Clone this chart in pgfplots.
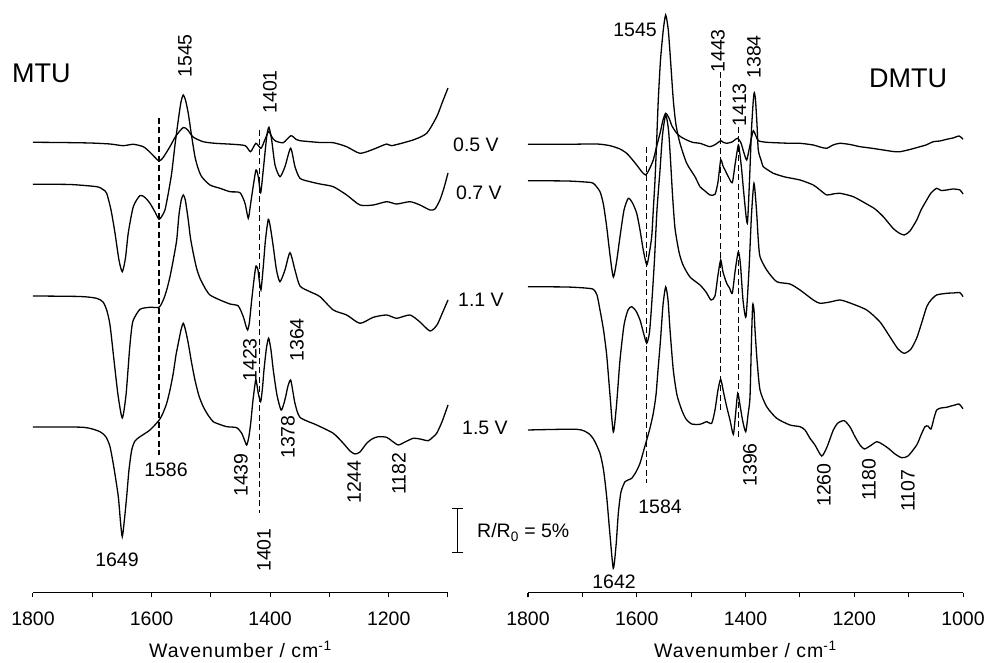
\documentclass[border=0pt]{standalone}
\usepackage{fontspec}
\setmainfont{Liberation Sans}
\usepackage{pgfplots}
\pgfplotsset{compat=1.18}
\newcommand{\lbl}{\fontsize{19.5pt}{23pt}\selectfont}
\begin{document}
\begin{tikzpicture}[font=\lbl]
\useasboundingbox (0,0) rectangle (988pt,663pt);
\pgfplotsset{
  spec/.style={
    scale only axis, height=593pt, ymin=-593, ymax=0,
    x dir=reverse,
    axis y line=none, axis x line*=bottom,
    x axis line style={-, line width=1pt},
    tick align=outside, major tick length=4.5pt, minor tick length=4.5pt,
    tick style={black, line width=1pt},
    ytick=\empty,
    /pgf/number format/assume math mode=true,
    /pgf/number format/1000 sep={},
    tick label style={font=\lbl},
    xticklabel style={yshift=-11pt},
    xlabel={\addfontfeatures{LetterSpace=5}Wavenumber / cm\textsuperscript{-1}},
    xlabel style={font=\lbl, at={(axis description cs:0.5,0)}, anchor=base, yshift=-65pt},
    clip=false,
  },
  trace/.style={black, line width=1.3pt, smooth, tension=0.4, mark=none},
  dline/.style={black, line width=1.2pt, dash pattern=on 6pt off 3.5pt, mark=none},
}
% ---------------- left panel: MTU ----------------
\begin{axis}[spec, at={(33pt,70pt)}, anchor=south west, width=415pt,
  xmin=1100, xmax=1800, xtick={1200,1400,1600,1800}, minor xtick={1100,1300,1500,1700}]
\addplot[dline] coordinates {(1587.5,-118)(1587.5,-455)};
\addplot[dline] coordinates {(1417.6,-130)(1417.6,-513)};
% 0.5 V
\addplot[trace] coordinates {(1800,-142.3)(1755,-142.5)(1704,-143)(1670,-144)(1648,-145.7)(1631,-144.3)(1614,-146.7)(1603,-152)(1594,-157.5)(1587.5,-161)(1581,-158)(1569,-146.7)(1559,-136)(1546.5,-127.5)(1539,-130)(1530,-137)(1513,-141.7)(1493,-143.3)(1463,-144.3)(1442,-145.7)(1433,-151.7)(1424,-143.3)(1415.5,-148.3)(1409,-140)(1402.5,-131.5)(1397,-137)(1392,-140.7)(1378,-142.7)(1365,-135.7)(1356,-139.5)(1350,-140.7)(1316,-142.5)(1293.5,-142.7)(1271,-146.7)(1248.5,-153.3)(1226,-149.3)(1203.5,-144)(1195,-145.7)(1159,-140)(1136,-133.3)(1119,-116.7)(1110,-103)(1100,-88)};
% 0.7 V
\addplot[trace] coordinates {(1800,-184.3)(1737.6,-184.5)(1692.6,-186.7)(1681.9,-189.5)(1675.7,-193.3)(1668.4,-210)(1661.7,-233)(1655,-260)(1649.4,-271.7)(1644,-258)(1639.3,-233)(1630.8,-206.7)(1619.5,-195.5)(1611.1,-197.5)(1602.7,-203.3)(1594.2,-212)(1587.5,-219.3)(1582.4,-216)(1577.4,-210)(1572.3,-195)(1566.1,-173.3)(1560.5,-145)(1554.9,-120)(1550.4,-102)(1546.5,-95)(1542.8,-100)(1538.1,-113.3)(1532.7,-135)(1526.8,-156.7)(1521.7,-168)(1515.5,-176.7)(1501.5,-185)(1484.6,-188.3)(1467.7,-191.7)(1450.9,-192.7)(1442.4,-203.3)(1436.9,-218.3)(1433.2,-205)(1429.5,-190)(1423.9,-170)(1420,-176.7)(1416,-192.7)(1411.6,-170)(1405.8,-136.7)(1402,-127.3)(1397.4,-140)(1391.8,-165)(1383.4,-176.7)(1375,-166.7)(1365.4,-148.3)(1358.1,-166.7)(1349.7,-178.3)(1332.8,-181.7)(1315.9,-184)(1293.5,-186.7)(1270.9,-195)(1248.5,-205)(1226,-205)(1203.5,-201.7)(1186.6,-204)(1164.2,-201.7)(1147.3,-205)(1130.4,-210)(1122,-209)(1113.6,-200)(1106.8,-188)(1100,-173)};
% 1.1 V
\addplot[trace] coordinates {(1800,-296)(1720.7,-296.5)(1692.6,-298.3)(1681.9,-302)(1675.7,-310)(1670.1,-325)(1663.4,-360)(1656.6,-395)(1649.4,-418)(1643.1,-395)(1637.2,-350)(1633.9,-330)(1630.8,-320)(1619.5,-309.3)(1602.7,-307.3)(1587.5,-307.3)(1580.2,-300)(1574.5,-290)(1568.9,-276.7)(1563.4,-260)(1557.6,-240)(1553.8,-215)(1549.9,-200)(1546.5,-195)(1543.1,-200)(1538.1,-220)(1534.4,-238)(1529.6,-253.3)(1524.2,-268)(1518.3,-278.3)(1509.9,-288)(1501.5,-295)(1484.6,-300)(1467.7,-304)(1453.7,-306)(1445.3,-316.7)(1440.8,-326)(1437.9,-330)(1434.9,-322)(1431.1,-300)(1427.3,-280)(1423.9,-266)(1420.5,-270)(1418.8,-278.3)(1415.5,-290)(1411.6,-266.7)(1407.9,-240)(1403.1,-219.3)(1399.4,-228)(1394.7,-246.7)(1389.3,-270)(1383.4,-281.7)(1375,-270)(1366.5,-252.7)(1358.1,-270)(1349.7,-286)(1332.8,-291.7)(1315.9,-296.7)(1293.5,-310)(1270.9,-315)(1248.5,-323.3)(1226,-317.3)(1203.5,-315)(1186.6,-318.3)(1164.2,-315)(1147.3,-322)(1130.4,-331)(1118.6,-325)(1110.2,-314)(1100,-300)};
% 1.5 V
\addplot[trace] coordinates {(1800,-427)(1715.2,-427.3)(1687,-431.7)(1676.9,-437)(1670.1,-446.7)(1663.4,-468)(1656.1,-496.7)(1652.4,-522)(1649.4,-536.7)(1646.2,-522)(1642,-496.7)(1638.1,-470)(1633.5,-450)(1628,-441)(1619.5,-436.7)(1602.7,-430)(1587,-420)(1580.7,-413)(1574.5,-403.3)(1568.9,-390)(1563.4,-373.3)(1558.8,-355)(1554.9,-343.3)(1550.4,-330)(1546.5,-323.3)(1542.8,-330)(1538.1,-343.3)(1532.7,-362)(1526.8,-380)(1520,-396)(1512.8,-406.7)(1504.8,-415)(1495.9,-421.7)(1484.6,-424.5)(1473.3,-426.7)(1456.4,-427.7)(1448,-433.3)(1443.3,-440)(1439.6,-445)(1436.2,-438)(1432.8,-423.3)(1428.9,-400)(1424.4,-380)(1422.2,-385)(1420,-393.3)(1416,-401.7)(1412.9,-388)(1410.4,-370)(1406.2,-348)(1402.5,-338.3)(1398.6,-350)(1394.7,-370)(1388.5,-395)(1381.7,-410)(1377.5,-405)(1373.8,-396.7)(1369.9,-386)(1365.4,-380)(1361.5,-392)(1358.1,-403.3)(1349.7,-417.3)(1321.5,-425)(1293.5,-433.3)(1276.6,-443.3)(1265.3,-451)(1256.9,-454)(1248.5,-452)(1237.2,-443.3)(1228.2,-439)(1217.6,-436.7)(1203.5,-437.3)(1194.5,-441)(1183.9,-445)(1172.6,-442)(1158.6,-438.3)(1147.3,-439)(1133.3,-440.7)(1125.4,-437)(1119.1,-433.3)(1110.2,-422)(1100,-405)};
\end{axis}
% ---------------- right panel: DMTU ----------------
\begin{axis}[spec, at={(528pt,70pt)}, anchor=south west, width=435pt,
  xmin=1000, xmax=1800, xtick={1000,1200,1400,1600,1800}, minor xtick={1100,1300,1500,1700}]
\addplot[dline] coordinates {(1581.7,-147)(1581.7,-483)};
\addplot[dline] coordinates {(1445.6,-72)(1445.6,-412)};
\addplot[dline] coordinates {(1413.2,-127)(1413.2,-440)};
% 0.5 V
\addplot[trace] coordinates {(1800,-144.3)(1728.8,-144.3)(1673.7,-144)(1649.2,-145.7)(1630.8,-149)(1618.5,-153.3)(1610.6,-158)(1600.1,-165)(1590.3,-172)(1583.5,-175)(1577.5,-170)(1569.6,-160)(1563.7,-147)(1557.2,-133.3)(1551.7,-120)(1546.8,-113.3)(1540.7,-118)(1535.2,-126)(1526.5,-133.3)(1518.6,-137)(1508.1,-140)(1496.5,-142.5)(1483.7,-143.3)(1465.3,-146.7)(1454.2,-144)(1445.6,-140.7)(1440.5,-142.5)(1434.6,-143.3)(1424.8,-142)(1414.7,-138.3)(1408.3,-143)(1402.8,-153)(1397.8,-160)(1393.6,-150)(1389,-138)(1385.6,-130.7)(1380.7,-136)(1376.5,-140.7)(1361,-142.3)(1318.2,-143.3)(1299.8,-143.3)(1275.3,-145)(1263,-147)(1250.7,-148.3)(1239.1,-145)(1226.2,-143.3)(1207.8,-144.5)(1189.4,-146.7)(1171,-148)(1146.6,-150)(1128.7,-151.5)(1115.9,-151.7)(1097.5,-149.5)(1079.1,-146.7)(1068,-145)(1054.6,-141.7)(1042.3,-141)(1030,-139.3)(1018.4,-138)(1006.8,-136)(1000,-139.3)};
% 0.7 V
\addplot[trace] coordinates {(1800,-180.7)(1728.8,-181)(1695.2,-182)(1679.9,-183.3)(1667.6,-191.7)(1661.1,-205)(1655.3,-226.7)(1649.2,-255)(1643.1,-277)(1637.2,-262)(1630.8,-236.7)(1623.4,-210)(1615.5,-198.3)(1607.8,-203)(1600.1,-213.3)(1594,-230)(1588,-250)(1581.7,-265)(1577.5,-255)(1572.5,-236.7)(1569.6,-210)(1566.4,-180)(1563.3,-140)(1560.4,-100)(1556.3,-60)(1551.2,-30)(1546.8,-15)(1542,-30)(1537.9,-60)(1532.8,-100)(1527.8,-125)(1520.5,-143.3)(1508.1,-163.3)(1492.9,-176.7)(1483.7,-186.7)(1474.5,-191)(1465.3,-195)(1456.1,-194.3)(1450.6,-182)(1445.6,-160)(1441.4,-166)(1437.7,-170)(1431.3,-177)(1424.3,-182.7)(1419.3,-165)(1413.2,-145)(1410.1,-155)(1407,-170)(1402.8,-195)(1396.7,-223.3)(1392.6,-180)(1389,-130)(1385.6,-100)(1383.8,-92.7)(1381.6,-100)(1378.8,-125)(1376.5,-150)(1371.5,-160)(1367.3,-166.7)(1358.6,-170)(1348.9,-173.3)(1327.4,-177)(1299.8,-180)(1275.3,-185)(1263,-190)(1250.7,-195)(1239.1,-194)(1226.2,-193.3)(1201.7,-196.7)(1177.1,-204)(1161.8,-209)(1146.6,-216.7)(1128.7,-228.3)(1117.7,-233)(1107.9,-235)(1097.5,-231)(1085.1,-220)(1077.2,-210)(1066.7,-200)(1058.8,-193)(1048.4,-188.3)(1040.5,-190.5)(1030,-190)(1018.4,-189)(1005.5,-190)(1000,-194)};
% 1.1 V
\addplot[trace] coordinates {(1800,-286.7)(1728.8,-287)(1695.2,-288)(1679.9,-289.3)(1673.1,-295)(1667.6,-310)(1661.1,-330)(1655.3,-355)(1649.2,-395)(1643.1,-432)(1637.2,-405)(1630.8,-360)(1623.4,-325)(1616.1,-310)(1609.3,-306.7)(1601.4,-311)(1594,-320)(1588,-332)(1581.7,-343.3)(1576.5,-332)(1572,-300)(1567.4,-260)(1562.8,-210)(1557.2,-170)(1552.6,-135)(1546.8,-115)(1541.6,-130)(1537.9,-160)(1534.2,-195)(1529.7,-228)(1522.3,-252)(1514.9,-265)(1502.1,-277)(1483.7,-285)(1472.6,-292)(1463.4,-300)(1456.1,-296)(1450.6,-275)(1445.6,-260)(1441.4,-272)(1434.6,-283.3)(1429.4,-288)(1424.3,-293.3)(1419.3,-272)(1413.2,-251.7)(1409.2,-265)(1404.6,-300)(1399.1,-316.7)(1393.6,-270)(1389,-215)(1384.4,-183.3)(1379.8,-210)(1376.5,-240)(1373.3,-256.7)(1361,-270)(1342.6,-281.7)(1318.2,-284)(1299.8,-290)(1275.3,-300)(1263,-303.3)(1244.6,-302)(1226.2,-300)(1207.8,-303)(1177.1,-310)(1152.6,-322)(1134.2,-337)(1119.5,-349)(1107.9,-353.3)(1095.6,-349)(1085.1,-338)(1077.2,-325)(1066.7,-306.7)(1058.8,-300)(1048.4,-295)(1030,-293.3)(1018.4,-293)(1005.5,-292.7)(1000,-296.7)};
% 1.5 V
\addplot[trace] coordinates {(1800,-430)(1710.4,-429.3)(1689.1,-433.3)(1678.6,-440)(1667.6,-453.3)(1661.1,-470)(1655.3,-496.7)(1649.2,-535)(1643.1,-568.3)(1638,-545)(1633.9,-513.3)(1629,-492)(1621.6,-481.7)(1616.1,-480)(1609.3,-478.3)(1601.4,-472)(1594,-463.3)(1588,-452)(1581.7,-440)(1575.6,-428)(1569.6,-413.3)(1564.6,-395)(1560.9,-370)(1556.3,-340)(1551.7,-305)(1546.8,-287)(1542.5,-300)(1538.8,-330)(1532.8,-370)(1526,-395)(1517.3,-410)(1509.4,-419)(1498.9,-424)(1483.7,-424.3)(1471.4,-421.7)(1462.2,-423.3)(1456.1,-410)(1450.6,-390)(1445.6,-379.3)(1440.5,-392)(1434.6,-406.7)(1428.5,-420)(1422.4,-434.3)(1418.4,-415)(1414.3,-393.3)(1410.1,-405)(1405.5,-420)(1399.6,-431.7)(1395.4,-415)(1391.7,-396.7)(1389,-340)(1386.8,-305)(1384.4,-310)(1382.5,-330)(1378.8,-360)(1373.3,-390)(1361,-406.7)(1342.6,-418.3)(1318.2,-425)(1299.8,-426.7)(1290.6,-430)(1281.4,-438.3)(1272.2,-445)(1259.9,-456)(1250.1,-447)(1238.5,-430)(1229.9,-423)(1218.3,-420.7)(1207.8,-427)(1198.6,-436.7)(1189.4,-445)(1181.5,-449)(1171,-446)(1158.7,-441.7)(1149,-444)(1137.4,-448.3)(1125,-454)(1112.7,-457.7)(1101.1,-456)(1085.1,-445)(1077.2,-435)(1069.9,-426.7)(1064.4,-426)(1058.8,-429)(1053.3,-418)(1048.4,-410)(1040.5,-408)(1030,-407.3)(1022.1,-406)(1014.7,-405)(1007.3,-404)(1000,-408.7)};
\end{axis}
% ---------------- annotations ----------------
\node[anchor=west, font=\fontsize{27pt}{30pt}\selectfont, inner sep=0pt] at (12pt,590pt) {MTU};
\node[font=\fontsize{27pt}{30pt}\selectfont, inner sep=0pt] at (908pt,585pt) {DMTU};
\node[rotate=90] at (185pt,607pt) {1545};
\node[rotate=90] at (270pt,571pt) {1401};
\node[anchor=west, inner sep=0pt] at (453pt,518pt) {0.5 V};
\node[anchor=west, inner sep=0pt] at (456pt,470pt) {0.7 V};
\node[anchor=west, inner sep=0pt] at (458pt,363pt) {1.1 V};
\node[anchor=west, inner sep=0pt] at (462pt,235pt) {1.5 V};
\node at (166pt,193pt) {1586};
\node at (117pt,103pt) {1649};
\node[rotate=90] at (241pt,188pt) {1439};
\node[rotate=90] at (250pt,303pt) {1423};
\node[rotate=90] at (288pt,226pt) {1378};
\node[rotate=90] at (297pt,323pt) {1364};
\node[rotate=90] at (264pt,113pt) {1401};
\node[rotate=90] at (354pt,181pt) {1244};
\node[rotate=90] at (399pt,189pt) {1182};
\draw[line width=1pt] (452pt,154pt) -- (463pt,154pt) (457.5pt,154pt) -- (457.5pt,110pt) (452pt,110pt) -- (463pt,110pt);
\node[anchor=base west, inner sep=0pt] at (477pt,125pt) {R/R\textsubscript{0} = 5\%};
\node at (635pt,633pt) {1545};
\node[rotate=90] at (718pt,612pt) {1443};
\node[rotate=90] at (739.5pt,558pt) {1413};
\node[rotate=90] at (754pt,606pt) {1384};
\node at (660pt,156pt) {1584};
\node at (614pt,81pt) {1642};
\node[rotate=90] at (750pt,198pt) {1396};
\node[rotate=90] at (824pt,178pt) {1260};
\node[rotate=90] at (869pt,183pt) {1180};
\node[rotate=90] at (908pt,172pt) {1107};
\end{tikzpicture}
\end{document}
